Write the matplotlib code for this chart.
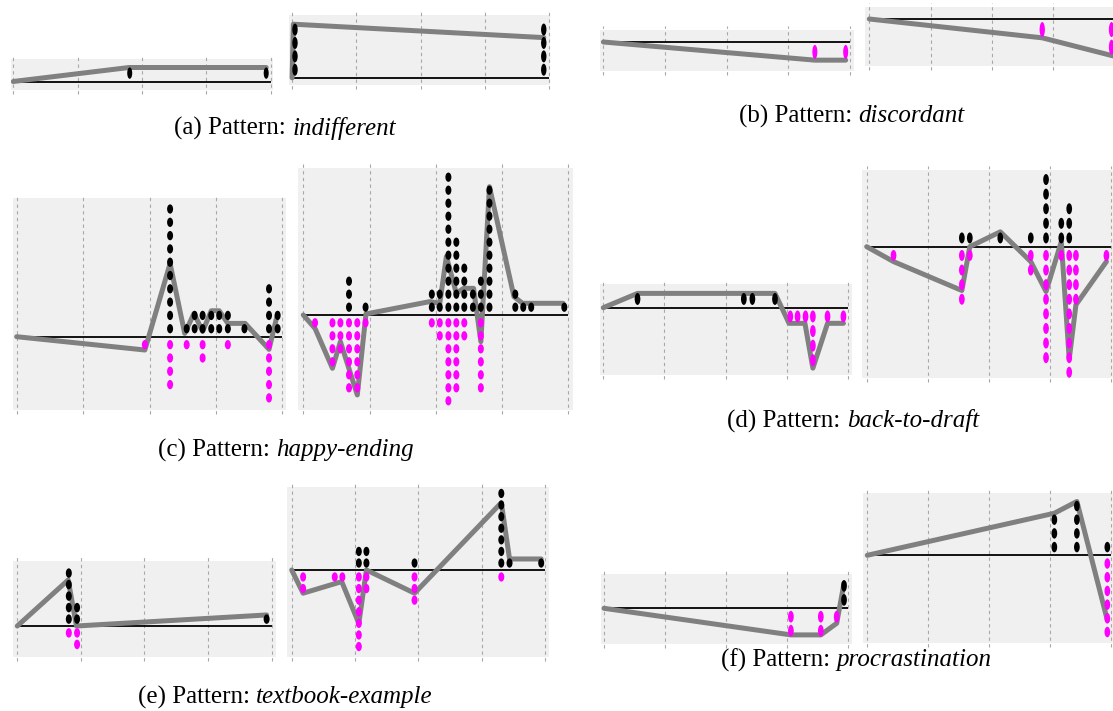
import matplotlib
matplotlib.use('Agg')
import matplotlib.pyplot as plt
from matplotlib.patches import Ellipse

# ---------------- data (x in grid units 0..4, y in dot units) ----------------
# (a) indifferent
a1_x = [1.81, 3.93]; a1_pos = [1, 1]; a1_neg = [0, 0]
a1_lx = [0, 1.80, 3.93]; a1_ly = [0, 1.0, 1.0]
a2_x = [0.045, 3.92]; a2_pos = [4, 4]; a2_neg = [0, 0]
a2_lx = [0, 0.02, 3.92]; a2_ly = [0, 4.0, 3.0]
# (b) discordant
b1_x = [3.43, 3.93]; b1_pos = [0, 0]; b1_neg = [1, 1]
b1_lx = [0, 3.43, 3.93]; b1_ly = [0, -1.1, -1.1]
b2_x = [2.82, 3.95]; b2_pos = [0, 0]; b2_neg = [1, 2]
b2_lx = [0, 2.82, 3.98]; b2_ly = [0, -1.07, -2.1]
# (c) happy-ending
c1_x = [1.93, 2.31, 2.56, 2.68, 2.80, 2.93, 3.05, 3.18, 3.43, 3.80, 3.93]
c1_pos = [0, 10, 1, 2, 2, 2, 2, 2, 1, 4, 2]
c1_neg = [1, 4, 1, 0, 2, 0, 0, 1, 0, 5, 0]
c1_lx = [0, 1.93, 2.31, 2.53, 2.67, 2.80, 2.93, 3.05, 3.18, 3.44, 3.80, 3.93]
c1_ly = [0, -1.0, 5.5, 0.25, 1.75, 0.4, 1.95, 1.95, 1.0, 1.0, -0.95, 1.75]
c2_x = [0.177, 0.44, 0.56, 0.69, 0.815, 0.94, 1.94, 2.06, 2.19, 2.31, 2.43, 2.56,
        2.68, 2.81, 3.20, 3.32, 3.44, 3.94]
c2_pos = [0, 0, 0, 3, 0, 1, 2, 2, 11, 6, 4, 2, 3, 10, 2, 1, 1, 1]
c2_neg = [1, 4, 3, 6, 6, 1, 1, 2, 7, 6, 2, 0, 6, 0, 0, 0, 0, 0]
c2_lx = [0, 0.177, 0.44, 0.56, 0.815, 0.946, 1.91, 2.06, 2.16, 2.31, 2.42, 2.57,
         2.68, 2.81, 3.18, 3.31, 3.92]
c2_ly = [0, -1.03, -4.1, -2.05, -6.15, 0.08, 1.03, 0.9, 4.5, 1.67, 2.05, 2.05,
         -2.05, 9.87, 1.41, 0.9, 0.9]
# (d) back-to-draft
d1_x = [0.56, 2.30, 2.44, 2.81, 3.06, 3.18, 3.31, 3.43, 3.67, 3.93]
d1_pos = [1, 1, 1, 1, 0, 0, 0, 0, 0, 0]
d1_neg = [0, 0, 0, 0, 1, 1, 1, 4, 1, 1]
d1_lx = [0, 0.56, 2.81, 3.04, 3.30, 3.43, 3.67, 3.93]
d1_ly = [0, 0.98, 0.98, -1.07, -1.07, -4.14, -1.07, -1.07]
d2_x = [0.44, 1.56, 1.69, 2.19, 2.69, 2.94, 3.19, 3.32, 3.43, 3.93]
d2_pos = [0, 1, 1, 1, 1, 5, 2, 3, 0, 0]
d2_neg = [1, 4, 1, 0, 2, 8, 1, 9, 4, 1]
d2_lx = [0, 0.44, 1.56, 1.69, 2.19, 2.69, 2.94, 3.19, 3.32, 3.43, 3.93]
d2_ly = [0, -1.02, -3.0, 0, 1.02, -1.02, -3.07, 0.34, -7.7, -3.98, -1.02]
# (e) textbook-example
e1_x = [0.81, 0.94, 3.92]; e1_pos = [5, 2, 1]; e1_neg = [1, 2, 0]
e1_lx = [0, 0.80, 0.93, 3.92]; e1_ly = [0, 4.0, 0, 0.96]
e2_x = [0.18, 0.68, 0.80, 1.06, 1.18, 1.94, 3.31, 3.44, 3.94]
e2_pos = [0, 0, 0, 2, 2, 1, 7, 1, 1]
e2_neg = [2, 1, 1, 7, 2, 3, 1, 0, 0]
e2_lx = [0, 0.18, 0.79, 1.06, 1.18, 1.94, 3.31, 3.44, 3.94]
e2_ly = [0, -2.0, -1.0, -4.6, 0, -2.0, 5.8, 0.95, 0.95]
# (f) procrastination
f1_x = [3.06, 3.55, 3.81, 3.93]; f1_pos = [0, 0, 0, 2]; f1_neg = [2, 2, 1, 0]
f1_lx = [0, 3.06, 3.55, 3.81, 3.93]; f1_ly = [0, -1.9, -1.9, -1.07, 1.79]
f2_x = [3.07, 3.44, 3.94]; f2_pos = [3, 4, 1]; f2_neg = [0, 0, 6]
f2_lx = [0, 3.07, 3.44, 3.94]; f2_ly = [0, 3.07, 3.93, -4.73]

captions = [
    ("(a) Pattern:", "indifferent"),
    ("(b) Pattern:", "discordant"),
    ("(c) Pattern:", "happy-ending"),
    ("(d) Pattern:", "back-to-draft"),
    ("(e) Pattern:", "textbook-example"),
    ("(f) Pattern:", "procrastination"),
]

# ---------------- layout (pixels) ----------------
W, H = 1113, 711
fig = plt.figure(figsize=(W / 100, H / 100), dpi=100)

# box (L, T, R, B), first/last grid px, zero-line px, dot step px, dot w/h px
layout = [
    ((10.7, 59.0, 273.2, 90.0), 13.2, 270.7, 81.5, 14.0, 5.0, 11.4, (a1_x, a1_pos, a1_neg, a1_lx, a1_ly)),
    ((288.6, 14.5, 550.0, 84.5), 292.1, 548.9, 77.8, 13.4, 5.4, 12.0, (a2_x, a2_pos, a2_neg, a2_lx, a2_ly)),
    ((599.9, 30.0, 853.8, 71.0), 603.4, 850.0, 42.0, 16.5, 5.0, 14.0, (b1_x, b1_pos, b1_neg, b1_lx, b1_ly)),
    ((865.0, 7.3, 1113.0, 66.0), 869.3, 1114.6, 19.0, 17.6, 5.3, 15.0, (b2_x, b2_pos, b2_neg, b2_lx, b2_ly)),
    ((12.7, 198.3, 286.0, 410.0), 16.7, 282.3, 336.7, 13.3, 6.0, 9.3, (c1_x, c1_pos, c1_neg, c1_lx, c1_ly)),
    ((298.3, 168.3, 573.3, 410.0), 303.3, 568.3, 315.0, 13.0, 6.0, 9.3, (c2_x, c2_pos, c2_neg, c2_lx, c2_ly)),
    ((600.0, 284.0, 851.7, 375.0), 603.3, 847.7, 307.7, 14.6, 5.7, 12.0, (d1_x, d1_pos, d1_neg, d1_lx, d1_ly)),
    ((862.3, 170.0, 1113.0, 378.3), 866.7, 1110.7, 246.7, 14.6, 5.7, 11.0, (d2_x, d2_pos, d2_neg, d2_lx, d2_ly)),
    ((13.3, 561.0, 276.0, 656.7), 17.3, 271.7, 626.0, 11.5, 6.0, 9.5, (e1_x, e1_pos, e1_neg, e1_lx, e1_ly)),
    ((287.3, 487.3, 549.3, 656.7), 291.7, 545.0, 570.0, 11.6, 6.0, 9.3, (e2_x, e2_pos, e2_neg, e2_lx, e2_ly)),
    ((601.0, 574.0, 851.7, 644.0), 604.0, 848.3, 608.3, 14.0, 5.7, 11.7, (f1_x, f1_pos, f1_neg, f1_lx, f1_ly)),
    ((863.3, 493.3, 1113.0, 643.3), 867.3, 1111.0, 555.3, 13.7, 5.7, 10.5, (f2_x, f2_pos, f2_neg, f2_lx, f2_ly)),
]

caption_pos = [(285, 128), (852, 116), (286, 450), (853, 421), (285, 697), (856, 660)]

BG = '#f0f0f0'
GRID = '#a8a8a8'
LINE = '#808080'
MAG = '#ff00ff'

for box, g0, g4, z, step, dw, dh, data in layout:
    xs, pos, neg, lx, ly = data
    L, T, R, B = box
    ax = fig.add_axes([L / W, 1 - B / H, (R - L) / W, (B - T) / H])
    sp = (g4 - g0) / 4.0
    ax.set_xlim((L - g0) / sp, (R - g0) / sp)
    ax.set_ylim((z - B) / step, (z - T) / step)
    ax.set_facecolor(BG)
    for s in ax.spines.values():
        s.set_visible(False)
    ax.set_xticks([])
    ax.set_yticks([])
    ext = 4.0 / (B - T)
    for gx in range(5):
        ax.axvline(gx, ymin=-ext, ymax=1 + ext, clip_on=False, color=GRID,
                   lw=0.8, ls=(0, (3, 3)), zorder=1)
    ax.hlines(0, 0, 4, color='black', lw=1.3, zorder=2)
    ax.plot(lx, ly, color=LINE, lw=3.6, solid_capstyle='round',
            solid_joinstyle='round', zorder=3)
    w = dw / sp
    h = dh / step
    for x, p, n in zip(xs, pos, neg):
        for k in range(p):
            ax.add_patch(Ellipse((x, k + 0.6), w, h, facecolor='black',
                                 edgecolor='none', zorder=4))
        for k in range(n):
            ax.add_patch(Ellipse((x, -(k + 0.6)), w, h, facecolor=MAG,
                                 edgecolor='none', zorder=4))

renderer = fig.canvas.get_renderer()
FS = 18
for (normal, ital), (cx, cy) in zip(captions, caption_pos):
    t1 = fig.text(0, 1 - cy / H, normal, family='Liberation Serif', size=FS,
                  ha='left', va='center')
    t2 = fig.text(0, 1 - cy / H, ital, family='Liberation Serif', size=FS,
                  style='italic', ha='left', va='center')
    w1 = t1.get_window_extent(renderer).width
    w2 = t2.get_window_extent(renderer).width
    gap = FS * 100 / 72 * 0.25
    x0 = cx - (w1 + gap + w2) / 2
    t1.set_x(x0 / W)
    t2.set_x((x0 + w1 + gap) / W)

fig.savefig('out.png', dpi=100, facecolor='white')
